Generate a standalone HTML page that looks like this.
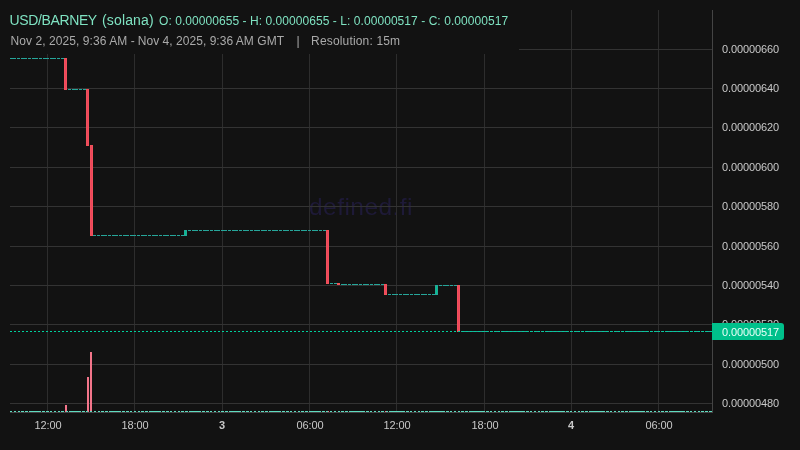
<!DOCTYPE html>
<html><head><meta charset="utf-8"><title>chart</title>
<style>
html,body{margin:0;padding:0;background:#121212;}
body{width:800px;height:450px;position:relative;overflow:hidden;font-family:"Liberation Sans",sans-serif;}
svg{position:absolute;left:0;top:0;}
.legend,.pl,.tl,.cur,.wm{will-change:transform;}
.wm{position:absolute;left:10px;width:702px;top:191.5px;height:30px;line-height:30px;text-align:center;font-size:24.5px;letter-spacing:0.45px;color:#1e1a38;}
.legend{position:absolute;left:0;top:0;width:519px;height:54px;background:#121212;}
.l1{position:absolute;left:0;top:11px;height:18px;line-height:18px;white-space:nowrap;color:#7fe3c2;}
.l1 span,.l2 span{position:absolute;top:0;white-space:nowrap;}
.l1 .t{font-size:14px;}
.l1 .v{font-size:12px;}
.l2{position:absolute;left:0;top:33px;height:16px;line-height:16px;font-size:12px;color:#aaaaaa;white-space:nowrap;}
.pl{position:absolute;left:722px;height:15px;line-height:15px;font-size:11px;color:#c8c8c8;white-space:nowrap;letter-spacing:-0.12px;}
.tl{position:absolute;top:417.5px;letter-spacing:-0.15px;width:60px;text-align:center;height:15px;line-height:15px;font-size:11px;color:#c8c8c8;}
.tl.b{font-weight:bold;}
.cur{position:absolute;left:712px;top:323px;width:72px;height:17px;background:#00c08b;border-radius:0 3px 3px 0;}
.cur span{position:absolute;left:10px;top:2px;height:15px;line-height:15px;font-size:11px;color:#e8fff8;letter-spacing:-0.12px;}
</style></head><body>
<div class="wm">defined.fi</div>
<svg width="800" height="450" viewBox="0 0 800 450" shape-rendering="crispEdges">
<rect x="47" y="10" width="1" height="402" fill="#2d2d2d"/>
<rect x="134" y="10" width="1" height="402" fill="#2d2d2d"/>
<rect x="222" y="10" width="1" height="402" fill="#2d2d2d"/>
<rect x="309" y="10" width="1" height="402" fill="#2d2d2d"/>
<rect x="396" y="10" width="1" height="402" fill="#2d2d2d"/>
<rect x="484" y="10" width="1" height="402" fill="#2d2d2d"/>
<rect x="571" y="10" width="1" height="402" fill="#2d2d2d"/>
<rect x="658" y="10" width="1" height="402" fill="#2d2d2d"/>
<rect x="10" y="49" width="702" height="1" fill="#333333"/>
<rect x="10" y="88" width="702" height="1" fill="#333333"/>
<rect x="10" y="127" width="702" height="1" fill="#333333"/>
<rect x="10" y="167" width="702" height="1" fill="#333333"/>
<rect x="10" y="206" width="702" height="1" fill="#333333"/>
<rect x="10" y="246" width="702" height="1" fill="#333333"/>
<rect x="10" y="285" width="702" height="1" fill="#333333"/>
<rect x="10" y="324" width="702" height="1" fill="#333333"/>
<rect x="10" y="364" width="702" height="1" fill="#333333"/>
<rect x="10" y="403" width="702" height="1" fill="#333333"/>
<rect x="10" y="411" width="2" height="1" fill="#5fdcc0"/>
<rect x="14" y="411" width="2" height="1" fill="#5fdcc0"/>
<rect x="18" y="411" width="2" height="1" fill="#5fdcc0"/>
<rect x="21" y="411" width="2" height="1" fill="#5fdcc0"/>
<rect x="25" y="411" width="2" height="1" fill="#5fdcc0"/>
<rect x="29" y="411" width="2" height="1" fill="#5fdcc0"/>
<rect x="32" y="411" width="2" height="1" fill="#5fdcc0"/>
<rect x="36" y="411" width="2" height="1" fill="#5fdcc0"/>
<rect x="39" y="411" width="2" height="1" fill="#5fdcc0"/>
<rect x="43" y="411" width="2" height="1" fill="#5fdcc0"/>
<rect x="47" y="411" width="2" height="1" fill="#5fdcc0"/>
<rect x="50" y="411" width="2" height="1" fill="#5fdcc0"/>
<rect x="54" y="411" width="2" height="1" fill="#5fdcc0"/>
<rect x="58" y="411" width="2" height="1" fill="#5fdcc0"/>
<rect x="61" y="411" width="2" height="1" fill="#5fdcc0"/>
<rect x="65" y="405" width="2" height="7" fill="#f3758a"/>
<rect x="69" y="411" width="2" height="1" fill="#5fdcc0"/>
<rect x="72" y="411" width="2" height="1" fill="#5fdcc0"/>
<rect x="76" y="411" width="2" height="1" fill="#5fdcc0"/>
<rect x="79" y="411" width="2" height="1" fill="#5fdcc0"/>
<rect x="83" y="411" width="2" height="1" fill="#5fdcc0"/>
<rect x="87" y="377" width="2" height="35" fill="#f3758a"/>
<rect x="90" y="352" width="2" height="60" fill="#f3758a"/>
<rect x="94" y="411" width="2" height="1" fill="#5fdcc0"/>
<rect x="98" y="411" width="2" height="1" fill="#5fdcc0"/>
<rect x="101" y="411" width="2" height="1" fill="#5fdcc0"/>
<rect x="105" y="411" width="2" height="1" fill="#5fdcc0"/>
<rect x="109" y="411" width="2" height="1" fill="#5fdcc0"/>
<rect x="112" y="411" width="2" height="1" fill="#5fdcc0"/>
<rect x="116" y="411" width="2" height="1" fill="#5fdcc0"/>
<rect x="119" y="411" width="2" height="1" fill="#5fdcc0"/>
<rect x="123" y="411" width="2" height="1" fill="#5fdcc0"/>
<rect x="127" y="411" width="2" height="1" fill="#5fdcc0"/>
<rect x="130" y="411" width="2" height="1" fill="#5fdcc0"/>
<rect x="134" y="411" width="2" height="1" fill="#5fdcc0"/>
<rect x="138" y="411" width="2" height="1" fill="#5fdcc0"/>
<rect x="141" y="411" width="2" height="1" fill="#5fdcc0"/>
<rect x="145" y="411" width="2" height="1" fill="#5fdcc0"/>
<rect x="149" y="411" width="2" height="1" fill="#5fdcc0"/>
<rect x="152" y="411" width="2" height="1" fill="#5fdcc0"/>
<rect x="156" y="411" width="2" height="1" fill="#5fdcc0"/>
<rect x="159" y="411" width="2" height="1" fill="#5fdcc0"/>
<rect x="163" y="411" width="2" height="1" fill="#5fdcc0"/>
<rect x="167" y="411" width="2" height="1" fill="#5fdcc0"/>
<rect x="170" y="411" width="2" height="1" fill="#5fdcc0"/>
<rect x="174" y="411" width="2" height="1" fill="#5fdcc0"/>
<rect x="178" y="411" width="2" height="1" fill="#5fdcc0"/>
<rect x="181" y="411" width="2" height="1" fill="#5fdcc0"/>
<rect x="185" y="411" width="2" height="1" fill="#5fdcc0"/>
<rect x="189" y="411" width="2" height="1" fill="#5fdcc0"/>
<rect x="192" y="411" width="2" height="1" fill="#5fdcc0"/>
<rect x="196" y="411" width="2" height="1" fill="#5fdcc0"/>
<rect x="199" y="411" width="2" height="1" fill="#5fdcc0"/>
<rect x="203" y="411" width="2" height="1" fill="#5fdcc0"/>
<rect x="207" y="411" width="2" height="1" fill="#5fdcc0"/>
<rect x="210" y="411" width="2" height="1" fill="#5fdcc0"/>
<rect x="214" y="411" width="2" height="1" fill="#5fdcc0"/>
<rect x="218" y="411" width="2" height="1" fill="#5fdcc0"/>
<rect x="221" y="411" width="2" height="1" fill="#5fdcc0"/>
<rect x="225" y="411" width="2" height="1" fill="#5fdcc0"/>
<rect x="229" y="411" width="2" height="1" fill="#5fdcc0"/>
<rect x="232" y="411" width="2" height="1" fill="#5fdcc0"/>
<rect x="236" y="411" width="2" height="1" fill="#5fdcc0"/>
<rect x="239" y="411" width="2" height="1" fill="#5fdcc0"/>
<rect x="243" y="411" width="2" height="1" fill="#5fdcc0"/>
<rect x="247" y="411" width="2" height="1" fill="#5fdcc0"/>
<rect x="250" y="411" width="2" height="1" fill="#5fdcc0"/>
<rect x="254" y="411" width="2" height="1" fill="#5fdcc0"/>
<rect x="258" y="411" width="2" height="1" fill="#5fdcc0"/>
<rect x="261" y="411" width="2" height="1" fill="#5fdcc0"/>
<rect x="265" y="411" width="2" height="1" fill="#5fdcc0"/>
<rect x="269" y="411" width="2" height="1" fill="#5fdcc0"/>
<rect x="272" y="411" width="2" height="1" fill="#5fdcc0"/>
<rect x="276" y="411" width="2" height="1" fill="#5fdcc0"/>
<rect x="279" y="411" width="2" height="1" fill="#5fdcc0"/>
<rect x="283" y="411" width="2" height="1" fill="#5fdcc0"/>
<rect x="287" y="411" width="2" height="1" fill="#5fdcc0"/>
<rect x="290" y="411" width="2" height="1" fill="#5fdcc0"/>
<rect x="294" y="411" width="2" height="1" fill="#5fdcc0"/>
<rect x="298" y="411" width="2" height="1" fill="#5fdcc0"/>
<rect x="301" y="411" width="2" height="1" fill="#5fdcc0"/>
<rect x="305" y="411" width="2" height="1" fill="#5fdcc0"/>
<rect x="309" y="411" width="2" height="1" fill="#5fdcc0"/>
<rect x="312" y="411" width="2" height="1" fill="#5fdcc0"/>
<rect x="316" y="411" width="2" height="1" fill="#5fdcc0"/>
<rect x="319" y="411" width="2" height="1" fill="#5fdcc0"/>
<rect x="323" y="411" width="2" height="1" fill="#5fdcc0"/>
<rect x="327" y="411" width="2" height="1" fill="#f3758a"/>
<rect x="330" y="411" width="2" height="1" fill="#5fdcc0"/>
<rect x="334" y="411" width="2" height="1" fill="#5fdcc0"/>
<rect x="338" y="411" width="2" height="1" fill="#f3758a"/>
<rect x="341" y="411" width="2" height="1" fill="#5fdcc0"/>
<rect x="345" y="411" width="2" height="1" fill="#5fdcc0"/>
<rect x="349" y="411" width="2" height="1" fill="#5fdcc0"/>
<rect x="352" y="411" width="2" height="1" fill="#5fdcc0"/>
<rect x="356" y="411" width="2" height="1" fill="#5fdcc0"/>
<rect x="360" y="411" width="2" height="1" fill="#5fdcc0"/>
<rect x="363" y="411" width="2" height="1" fill="#5fdcc0"/>
<rect x="367" y="411" width="2" height="1" fill="#5fdcc0"/>
<rect x="370" y="411" width="2" height="1" fill="#5fdcc0"/>
<rect x="374" y="411" width="2" height="1" fill="#5fdcc0"/>
<rect x="378" y="411" width="2" height="1" fill="#5fdcc0"/>
<rect x="381" y="411" width="2" height="1" fill="#5fdcc0"/>
<rect x="385" y="411" width="2" height="1" fill="#f3758a"/>
<rect x="389" y="411" width="2" height="1" fill="#5fdcc0"/>
<rect x="392" y="411" width="2" height="1" fill="#5fdcc0"/>
<rect x="396" y="411" width="2" height="1" fill="#5fdcc0"/>
<rect x="400" y="411" width="2" height="1" fill="#5fdcc0"/>
<rect x="403" y="411" width="2" height="1" fill="#5fdcc0"/>
<rect x="407" y="411" width="2" height="1" fill="#5fdcc0"/>
<rect x="410" y="411" width="2" height="1" fill="#5fdcc0"/>
<rect x="414" y="411" width="2" height="1" fill="#5fdcc0"/>
<rect x="418" y="411" width="2" height="1" fill="#5fdcc0"/>
<rect x="421" y="411" width="2" height="1" fill="#5fdcc0"/>
<rect x="425" y="411" width="2" height="1" fill="#5fdcc0"/>
<rect x="429" y="411" width="2" height="1" fill="#5fdcc0"/>
<rect x="432" y="411" width="2" height="1" fill="#5fdcc0"/>
<rect x="436" y="411" width="2" height="1" fill="#5fdcc0"/>
<rect x="440" y="411" width="2" height="1" fill="#5fdcc0"/>
<rect x="443" y="411" width="2" height="1" fill="#5fdcc0"/>
<rect x="447" y="411" width="2" height="1" fill="#5fdcc0"/>
<rect x="450" y="411" width="2" height="1" fill="#5fdcc0"/>
<rect x="454" y="411" width="2" height="1" fill="#5fdcc0"/>
<rect x="458" y="411" width="2" height="1" fill="#f3758a"/>
<rect x="461" y="411" width="2" height="1" fill="#5fdcc0"/>
<rect x="465" y="411" width="2" height="1" fill="#5fdcc0"/>
<rect x="469" y="411" width="2" height="1" fill="#5fdcc0"/>
<rect x="472" y="411" width="2" height="1" fill="#5fdcc0"/>
<rect x="476" y="411" width="2" height="1" fill="#5fdcc0"/>
<rect x="480" y="411" width="2" height="1" fill="#5fdcc0"/>
<rect x="483" y="411" width="2" height="1" fill="#5fdcc0"/>
<rect x="487" y="411" width="2" height="1" fill="#5fdcc0"/>
<rect x="490" y="411" width="2" height="1" fill="#5fdcc0"/>
<rect x="494" y="411" width="2" height="1" fill="#5fdcc0"/>
<rect x="498" y="411" width="2" height="1" fill="#5fdcc0"/>
<rect x="501" y="411" width="2" height="1" fill="#5fdcc0"/>
<rect x="505" y="411" width="2" height="1" fill="#5fdcc0"/>
<rect x="509" y="411" width="2" height="1" fill="#5fdcc0"/>
<rect x="512" y="411" width="2" height="1" fill="#5fdcc0"/>
<rect x="516" y="411" width="2" height="1" fill="#5fdcc0"/>
<rect x="520" y="411" width="2" height="1" fill="#5fdcc0"/>
<rect x="523" y="411" width="2" height="1" fill="#5fdcc0"/>
<rect x="527" y="411" width="2" height="1" fill="#5fdcc0"/>
<rect x="530" y="411" width="2" height="1" fill="#5fdcc0"/>
<rect x="534" y="411" width="2" height="1" fill="#5fdcc0"/>
<rect x="538" y="411" width="2" height="1" fill="#5fdcc0"/>
<rect x="541" y="411" width="2" height="1" fill="#5fdcc0"/>
<rect x="545" y="411" width="2" height="1" fill="#5fdcc0"/>
<rect x="549" y="411" width="2" height="1" fill="#5fdcc0"/>
<rect x="552" y="411" width="2" height="1" fill="#5fdcc0"/>
<rect x="556" y="411" width="2" height="1" fill="#5fdcc0"/>
<rect x="560" y="411" width="2" height="1" fill="#5fdcc0"/>
<rect x="563" y="411" width="2" height="1" fill="#5fdcc0"/>
<rect x="567" y="411" width="2" height="1" fill="#5fdcc0"/>
<rect x="570" y="411" width="2" height="1" fill="#5fdcc0"/>
<rect x="574" y="411" width="2" height="1" fill="#5fdcc0"/>
<rect x="578" y="411" width="2" height="1" fill="#5fdcc0"/>
<rect x="581" y="411" width="2" height="1" fill="#5fdcc0"/>
<rect x="585" y="411" width="2" height="1" fill="#5fdcc0"/>
<rect x="589" y="411" width="2" height="1" fill="#5fdcc0"/>
<rect x="592" y="411" width="2" height="1" fill="#5fdcc0"/>
<rect x="596" y="411" width="2" height="1" fill="#5fdcc0"/>
<rect x="600" y="411" width="2" height="1" fill="#5fdcc0"/>
<rect x="603" y="411" width="2" height="1" fill="#5fdcc0"/>
<rect x="607" y="411" width="2" height="1" fill="#5fdcc0"/>
<rect x="610" y="411" width="2" height="1" fill="#5fdcc0"/>
<rect x="614" y="411" width="2" height="1" fill="#5fdcc0"/>
<rect x="618" y="411" width="2" height="1" fill="#5fdcc0"/>
<rect x="621" y="411" width="2" height="1" fill="#5fdcc0"/>
<rect x="625" y="411" width="2" height="1" fill="#5fdcc0"/>
<rect x="629" y="411" width="2" height="1" fill="#5fdcc0"/>
<rect x="632" y="411" width="2" height="1" fill="#5fdcc0"/>
<rect x="636" y="411" width="2" height="1" fill="#5fdcc0"/>
<rect x="640" y="411" width="2" height="1" fill="#5fdcc0"/>
<rect x="643" y="411" width="2" height="1" fill="#5fdcc0"/>
<rect x="647" y="411" width="2" height="1" fill="#5fdcc0"/>
<rect x="650" y="411" width="2" height="1" fill="#5fdcc0"/>
<rect x="654" y="411" width="2" height="1" fill="#5fdcc0"/>
<rect x="658" y="411" width="2" height="1" fill="#5fdcc0"/>
<rect x="661" y="411" width="2" height="1" fill="#5fdcc0"/>
<rect x="665" y="411" width="2" height="1" fill="#5fdcc0"/>
<rect x="669" y="411" width="2" height="1" fill="#5fdcc0"/>
<rect x="672" y="411" width="2" height="1" fill="#5fdcc0"/>
<rect x="676" y="411" width="2" height="1" fill="#5fdcc0"/>
<rect x="680" y="411" width="2" height="1" fill="#5fdcc0"/>
<rect x="683" y="411" width="2" height="1" fill="#5fdcc0"/>
<rect x="687" y="411" width="2" height="1" fill="#5fdcc0"/>
<rect x="690" y="411" width="2" height="1" fill="#5fdcc0"/>
<rect x="694" y="411" width="2" height="1" fill="#5fdcc0"/>
<rect x="698" y="411" width="2" height="1" fill="#5fdcc0"/>
<rect x="701" y="411" width="2" height="1" fill="#5fdcc0"/>
<rect x="705" y="411" width="2" height="1" fill="#5fdcc0"/>
<rect x="709" y="411" width="2" height="1" fill="#5fdcc0"/>
<path d="M10 411.5H712" stroke="#5fdcc0" stroke-width="1" stroke-dasharray="2 2" fill="none"/>
<rect x="10" y="58" width="3" height="1" fill="#26a69a"/>
<rect x="13" y="58" width="3" height="1" fill="#26a69a"/>
<rect x="17" y="58" width="3" height="1" fill="#26a69a"/>
<rect x="21" y="58" width="3" height="1" fill="#26a69a"/>
<rect x="24" y="58" width="3" height="1" fill="#26a69a"/>
<rect x="28" y="58" width="3" height="1" fill="#26a69a"/>
<rect x="32" y="58" width="3" height="1" fill="#26a69a"/>
<rect x="35" y="58" width="3" height="1" fill="#26a69a"/>
<rect x="39" y="58" width="3" height="1" fill="#26a69a"/>
<rect x="43" y="58" width="3" height="1" fill="#26a69a"/>
<rect x="46" y="58" width="3" height="1" fill="#26a69a"/>
<rect x="50" y="58" width="3" height="1" fill="#26a69a"/>
<rect x="53" y="58" width="3" height="1" fill="#26a69a"/>
<rect x="57" y="58" width="3" height="1" fill="#26a69a"/>
<rect x="61" y="58" width="3" height="1" fill="#26a69a"/>
<rect x="64" y="58" width="3" height="32" fill="#f15258"/>
<rect x="65" y="59" width="1" height="30" fill="#ec4461"/>
<rect x="68" y="89" width="3" height="1" fill="#26a69a"/>
<rect x="72" y="89" width="3" height="1" fill="#26a69a"/>
<rect x="75" y="89" width="3" height="1" fill="#26a69a"/>
<rect x="79" y="89" width="3" height="1" fill="#26a69a"/>
<rect x="83" y="89" width="3" height="1" fill="#26a69a"/>
<rect x="86" y="89" width="3" height="57" fill="#f15258"/>
<rect x="87" y="90" width="1" height="55" fill="#ec4461"/>
<rect x="90" y="145" width="3" height="91" fill="#f15258"/>
<rect x="91" y="146" width="1" height="89" fill="#ec4461"/>
<rect x="93" y="235" width="3" height="1" fill="#26a69a"/>
<rect x="97" y="235" width="3" height="1" fill="#26a69a"/>
<rect x="101" y="235" width="3" height="1" fill="#26a69a"/>
<rect x="104" y="235" width="3" height="1" fill="#26a69a"/>
<rect x="108" y="235" width="3" height="1" fill="#26a69a"/>
<rect x="112" y="235" width="3" height="1" fill="#26a69a"/>
<rect x="115" y="235" width="3" height="1" fill="#26a69a"/>
<rect x="119" y="235" width="3" height="1" fill="#26a69a"/>
<rect x="123" y="235" width="3" height="1" fill="#26a69a"/>
<rect x="126" y="235" width="3" height="1" fill="#26a69a"/>
<rect x="130" y="235" width="3" height="1" fill="#26a69a"/>
<rect x="133" y="235" width="3" height="1" fill="#26a69a"/>
<rect x="137" y="235" width="3" height="1" fill="#26a69a"/>
<rect x="141" y="235" width="3" height="1" fill="#26a69a"/>
<rect x="144" y="235" width="3" height="1" fill="#26a69a"/>
<rect x="148" y="235" width="3" height="1" fill="#26a69a"/>
<rect x="152" y="235" width="3" height="1" fill="#26a69a"/>
<rect x="155" y="235" width="3" height="1" fill="#26a69a"/>
<rect x="159" y="235" width="3" height="1" fill="#26a69a"/>
<rect x="163" y="235" width="3" height="1" fill="#26a69a"/>
<rect x="166" y="235" width="3" height="1" fill="#26a69a"/>
<rect x="170" y="235" width="3" height="1" fill="#26a69a"/>
<rect x="173" y="235" width="3" height="1" fill="#26a69a"/>
<rect x="177" y="235" width="3" height="1" fill="#26a69a"/>
<rect x="181" y="235" width="3" height="1" fill="#26a69a"/>
<rect x="184" y="230" width="3" height="6" fill="#26a69a"/>
<rect x="185" y="231" width="1" height="4" fill="#00c48c"/>
<rect x="188" y="230" width="3" height="1" fill="#26a69a"/>
<rect x="192" y="230" width="3" height="1" fill="#26a69a"/>
<rect x="195" y="230" width="3" height="1" fill="#26a69a"/>
<rect x="199" y="230" width="3" height="1" fill="#26a69a"/>
<rect x="203" y="230" width="3" height="1" fill="#26a69a"/>
<rect x="206" y="230" width="3" height="1" fill="#26a69a"/>
<rect x="210" y="230" width="3" height="1" fill="#26a69a"/>
<rect x="214" y="230" width="3" height="1" fill="#26a69a"/>
<rect x="217" y="230" width="3" height="1" fill="#26a69a"/>
<rect x="221" y="230" width="3" height="1" fill="#26a69a"/>
<rect x="224" y="230" width="3" height="1" fill="#26a69a"/>
<rect x="228" y="230" width="3" height="1" fill="#26a69a"/>
<rect x="232" y="230" width="3" height="1" fill="#26a69a"/>
<rect x="235" y="230" width="3" height="1" fill="#26a69a"/>
<rect x="239" y="230" width="3" height="1" fill="#26a69a"/>
<rect x="243" y="230" width="3" height="1" fill="#26a69a"/>
<rect x="246" y="230" width="3" height="1" fill="#26a69a"/>
<rect x="250" y="230" width="3" height="1" fill="#26a69a"/>
<rect x="254" y="230" width="3" height="1" fill="#26a69a"/>
<rect x="257" y="230" width="3" height="1" fill="#26a69a"/>
<rect x="261" y="230" width="3" height="1" fill="#26a69a"/>
<rect x="264" y="230" width="3" height="1" fill="#26a69a"/>
<rect x="268" y="230" width="3" height="1" fill="#26a69a"/>
<rect x="272" y="230" width="3" height="1" fill="#26a69a"/>
<rect x="275" y="230" width="3" height="1" fill="#26a69a"/>
<rect x="279" y="230" width="3" height="1" fill="#26a69a"/>
<rect x="283" y="230" width="3" height="1" fill="#26a69a"/>
<rect x="286" y="230" width="3" height="1" fill="#26a69a"/>
<rect x="290" y="230" width="3" height="1" fill="#26a69a"/>
<rect x="294" y="230" width="3" height="1" fill="#26a69a"/>
<rect x="297" y="230" width="3" height="1" fill="#26a69a"/>
<rect x="301" y="230" width="3" height="1" fill="#26a69a"/>
<rect x="304" y="230" width="3" height="1" fill="#26a69a"/>
<rect x="308" y="230" width="3" height="1" fill="#26a69a"/>
<rect x="312" y="230" width="3" height="1" fill="#26a69a"/>
<rect x="315" y="230" width="3" height="1" fill="#26a69a"/>
<rect x="319" y="230" width="3" height="1" fill="#26a69a"/>
<rect x="323" y="230" width="3" height="1" fill="#26a69a"/>
<rect x="326" y="230" width="3" height="54" fill="#f15258"/>
<rect x="327" y="231" width="1" height="52" fill="#ec4461"/>
<rect x="330" y="283" width="3" height="1" fill="#26a69a"/>
<rect x="334" y="283" width="3" height="1" fill="#26a69a"/>
<rect x="337" y="283" width="3" height="2" fill="#f15258"/>
<rect x="341" y="284" width="3" height="1" fill="#26a69a"/>
<rect x="344" y="284" width="3" height="1" fill="#26a69a"/>
<rect x="348" y="284" width="3" height="1" fill="#26a69a"/>
<rect x="352" y="284" width="3" height="1" fill="#26a69a"/>
<rect x="355" y="284" width="3" height="1" fill="#26a69a"/>
<rect x="359" y="284" width="3" height="1" fill="#26a69a"/>
<rect x="363" y="284" width="3" height="1" fill="#26a69a"/>
<rect x="366" y="284" width="3" height="1" fill="#26a69a"/>
<rect x="370" y="284" width="3" height="1" fill="#26a69a"/>
<rect x="374" y="284" width="3" height="1" fill="#26a69a"/>
<rect x="377" y="284" width="3" height="1" fill="#26a69a"/>
<rect x="381" y="284" width="3" height="1" fill="#26a69a"/>
<rect x="384" y="284" width="3" height="11" fill="#f15258"/>
<rect x="385" y="285" width="1" height="9" fill="#ec4461"/>
<rect x="388" y="294" width="3" height="1" fill="#26a69a"/>
<rect x="392" y="294" width="3" height="1" fill="#26a69a"/>
<rect x="395" y="294" width="3" height="1" fill="#26a69a"/>
<rect x="399" y="294" width="3" height="1" fill="#26a69a"/>
<rect x="403" y="294" width="3" height="1" fill="#26a69a"/>
<rect x="406" y="294" width="3" height="1" fill="#26a69a"/>
<rect x="410" y="294" width="3" height="1" fill="#26a69a"/>
<rect x="414" y="294" width="3" height="1" fill="#26a69a"/>
<rect x="417" y="294" width="3" height="1" fill="#26a69a"/>
<rect x="421" y="294" width="3" height="1" fill="#26a69a"/>
<rect x="424" y="294" width="3" height="1" fill="#26a69a"/>
<rect x="428" y="294" width="3" height="1" fill="#26a69a"/>
<rect x="432" y="294" width="3" height="1" fill="#26a69a"/>
<rect x="435" y="285" width="3" height="10" fill="#26a69a"/>
<rect x="436" y="286" width="1" height="8" fill="#00c48c"/>
<rect x="439" y="285" width="3" height="1" fill="#26a69a"/>
<rect x="443" y="285" width="3" height="1" fill="#26a69a"/>
<rect x="446" y="285" width="3" height="1" fill="#26a69a"/>
<rect x="450" y="285" width="3" height="1" fill="#26a69a"/>
<rect x="454" y="285" width="3" height="1" fill="#26a69a"/>
<rect x="457" y="285" width="3" height="47" fill="#f15258"/>
<rect x="458" y="286" width="1" height="45" fill="#ec4461"/>
<rect x="461" y="331" width="3" height="1" fill="#26a69a"/>
<rect x="464" y="331" width="3" height="1" fill="#26a69a"/>
<rect x="468" y="331" width="3" height="1" fill="#26a69a"/>
<rect x="472" y="331" width="3" height="1" fill="#26a69a"/>
<rect x="475" y="331" width="3" height="1" fill="#26a69a"/>
<rect x="479" y="331" width="3" height="1" fill="#26a69a"/>
<rect x="483" y="331" width="3" height="1" fill="#26a69a"/>
<rect x="486" y="331" width="3" height="1" fill="#26a69a"/>
<rect x="490" y="331" width="3" height="1" fill="#26a69a"/>
<rect x="494" y="331" width="3" height="1" fill="#26a69a"/>
<rect x="497" y="331" width="3" height="1" fill="#26a69a"/>
<rect x="501" y="331" width="3" height="1" fill="#26a69a"/>
<rect x="504" y="331" width="3" height="1" fill="#26a69a"/>
<rect x="508" y="331" width="3" height="1" fill="#26a69a"/>
<rect x="512" y="331" width="3" height="1" fill="#26a69a"/>
<rect x="515" y="331" width="3" height="1" fill="#26a69a"/>
<rect x="519" y="331" width="3" height="1" fill="#26a69a"/>
<rect x="523" y="331" width="3" height="1" fill="#26a69a"/>
<rect x="526" y="331" width="3" height="1" fill="#26a69a"/>
<rect x="530" y="331" width="3" height="1" fill="#26a69a"/>
<rect x="534" y="331" width="3" height="1" fill="#26a69a"/>
<rect x="537" y="331" width="3" height="1" fill="#26a69a"/>
<rect x="541" y="331" width="3" height="1" fill="#26a69a"/>
<rect x="545" y="331" width="3" height="1" fill="#26a69a"/>
<rect x="548" y="331" width="3" height="1" fill="#26a69a"/>
<rect x="552" y="331" width="3" height="1" fill="#26a69a"/>
<rect x="555" y="331" width="3" height="1" fill="#26a69a"/>
<rect x="559" y="331" width="3" height="1" fill="#26a69a"/>
<rect x="563" y="331" width="3" height="1" fill="#26a69a"/>
<rect x="566" y="331" width="3" height="1" fill="#26a69a"/>
<rect x="570" y="331" width="3" height="1" fill="#26a69a"/>
<rect x="574" y="331" width="3" height="1" fill="#26a69a"/>
<rect x="577" y="331" width="3" height="1" fill="#26a69a"/>
<rect x="581" y="331" width="3" height="1" fill="#26a69a"/>
<rect x="585" y="331" width="3" height="1" fill="#26a69a"/>
<rect x="588" y="331" width="3" height="1" fill="#26a69a"/>
<rect x="592" y="331" width="3" height="1" fill="#26a69a"/>
<rect x="595" y="331" width="3" height="1" fill="#26a69a"/>
<rect x="599" y="331" width="3" height="1" fill="#26a69a"/>
<rect x="603" y="331" width="3" height="1" fill="#26a69a"/>
<rect x="606" y="331" width="3" height="1" fill="#26a69a"/>
<rect x="610" y="331" width="3" height="1" fill="#26a69a"/>
<rect x="614" y="331" width="3" height="1" fill="#26a69a"/>
<rect x="617" y="331" width="3" height="1" fill="#26a69a"/>
<rect x="621" y="331" width="3" height="1" fill="#26a69a"/>
<rect x="625" y="331" width="3" height="1" fill="#26a69a"/>
<rect x="628" y="331" width="3" height="1" fill="#26a69a"/>
<rect x="632" y="331" width="3" height="1" fill="#26a69a"/>
<rect x="635" y="331" width="3" height="1" fill="#26a69a"/>
<rect x="639" y="331" width="3" height="1" fill="#26a69a"/>
<rect x="643" y="331" width="3" height="1" fill="#26a69a"/>
<rect x="646" y="331" width="3" height="1" fill="#26a69a"/>
<rect x="650" y="331" width="3" height="1" fill="#26a69a"/>
<rect x="654" y="331" width="3" height="1" fill="#26a69a"/>
<rect x="657" y="331" width="3" height="1" fill="#26a69a"/>
<rect x="661" y="331" width="3" height="1" fill="#26a69a"/>
<rect x="665" y="331" width="3" height="1" fill="#26a69a"/>
<rect x="668" y="331" width="3" height="1" fill="#26a69a"/>
<rect x="672" y="331" width="3" height="1" fill="#26a69a"/>
<rect x="675" y="331" width="3" height="1" fill="#26a69a"/>
<rect x="679" y="331" width="3" height="1" fill="#26a69a"/>
<rect x="683" y="331" width="3" height="1" fill="#26a69a"/>
<rect x="686" y="331" width="3" height="1" fill="#26a69a"/>
<rect x="690" y="331" width="3" height="1" fill="#26a69a"/>
<rect x="694" y="331" width="3" height="1" fill="#26a69a"/>
<rect x="697" y="331" width="3" height="1" fill="#26a69a"/>
<rect x="701" y="331" width="3" height="1" fill="#26a69a"/>
<rect x="705" y="331" width="3" height="1" fill="#26a69a"/>
<rect x="708" y="331" width="3" height="1" fill="#26a69a"/>
<path d="M10 331.5H712" stroke="#00cf9c" stroke-width="1" stroke-dasharray="2 2" fill="none"/>
<rect x="712" y="10" width="1" height="403" fill="#444444"/>
<rect x="10" y="412" width="703" height="1" fill="#444444"/>
</svg>
<div class="legend">
<div class="l1"><span class="t" style="left:9.6px;letter-spacing:-0.38px">USD/BARNEY</span><span class="t" style="left:102px;letter-spacing:0.15px">(solana)</span><span class="v" style="top:1px;left:159.0px;letter-spacing:0.058px">O: 0.00000655 - H: 0.00000655 - L: 0.00000517 - C: 0.00000517</span></div>
<div class="l2"><span style="left:10.5px;letter-spacing:0.07px">Nov 2, 2025, 9:36 AM</span><span style="left:130.8px">-</span><span style="left:137.8px;letter-spacing:0.035px">Nov 4, 2025, 9:36 AM GMT</span><span style="left:296.6px">|</span><span style="left:311.1px;letter-spacing:0.16px">Resolution: 15m</span></div>
</div>
<div class="pl" style="top:42px">0.00000660</div><div class="pl" style="top:81px">0.00000640</div><div class="pl" style="top:120px">0.00000620</div><div class="pl" style="top:160px">0.00000600</div><div class="pl" style="top:199px">0.00000580</div><div class="pl" style="top:239px">0.00000560</div><div class="pl" style="top:278px">0.00000540</div><div class="pl" style="top:317px">0.00000520</div><div class="pl" style="top:357px">0.00000500</div><div class="pl" style="top:396px">0.00000480</div>
<div class="cur"><span>0.00000517</span></div>
<div class="tl" style="left:17.5px">12:00</div><div class="tl" style="left:104.5px">18:00</div><div class="tl b" style="left:191.9px">3</div><div class="tl" style="left:279.5px">06:00</div><div class="tl" style="left:366.5px">12:00</div><div class="tl" style="left:454.5px">18:00</div><div class="tl b" style="left:540.9px">4</div><div class="tl" style="left:628.5px">06:00</div>
</body></html>
